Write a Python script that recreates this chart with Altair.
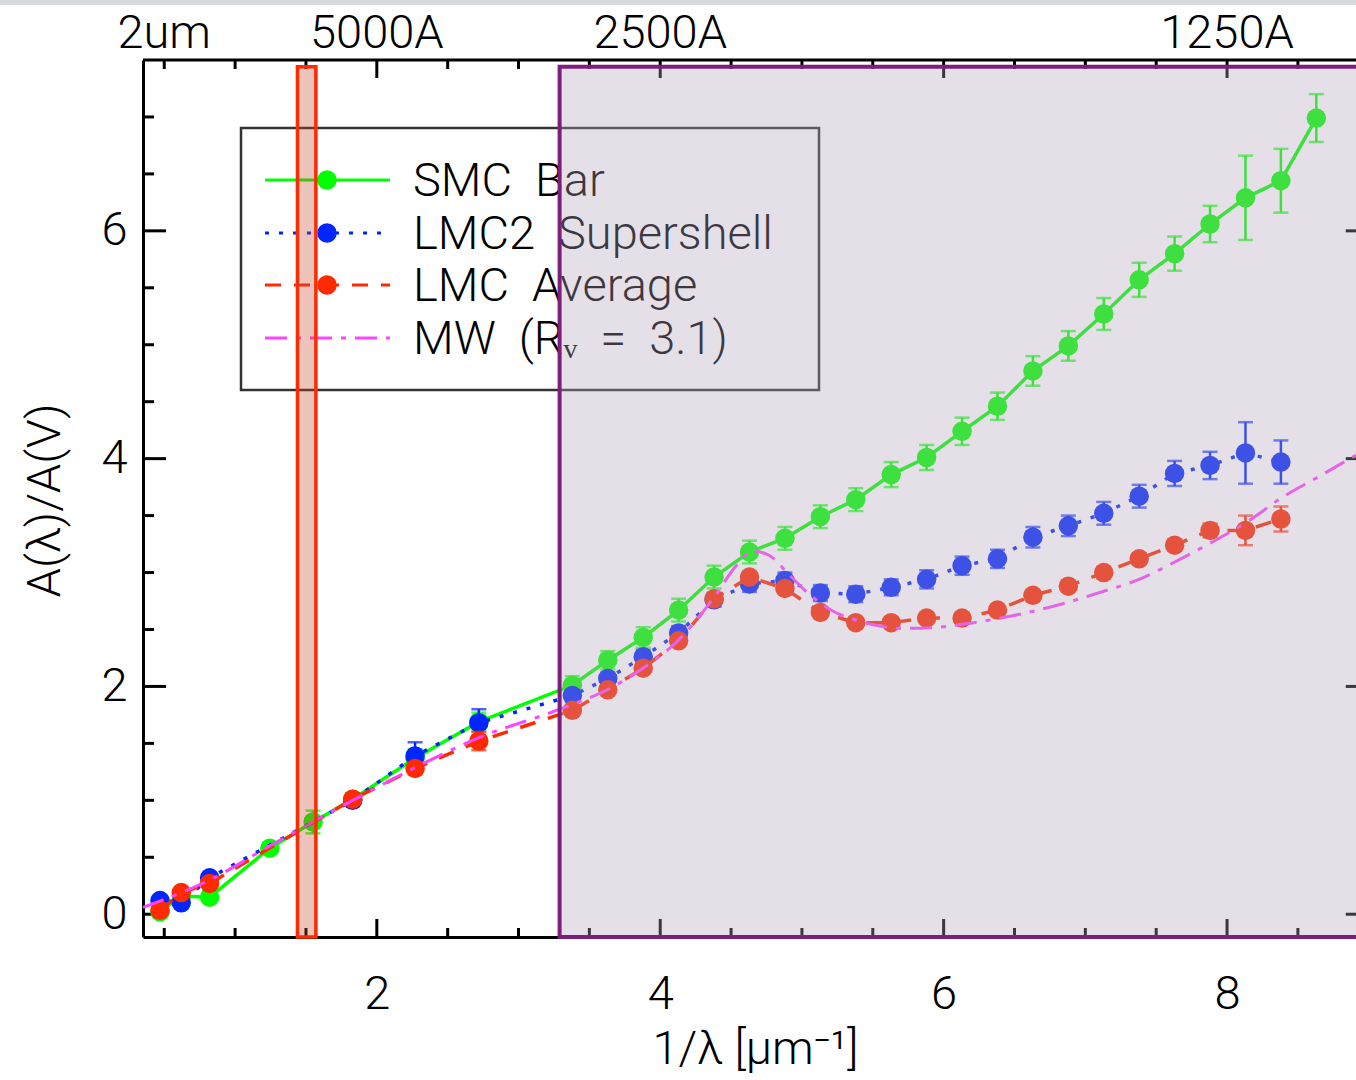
import altair as alt
import pandas as pd

# ---------------- data ----------------
uv_x = [3.38, 3.63, 3.88, 4.13, 4.38, 4.63, 4.88, 5.13, 5.38, 5.63, 5.88,
        6.13, 6.38, 6.63, 6.88, 7.13, 7.38, 7.63, 7.88, 8.13, 8.38, 8.63]

smc_x = [0.47, 0.62, 0.82, 1.245, 1.55, 1.83, 2.27, 2.72] + uv_x
smc_y = [0.02, 0.16, 0.15, 0.58, 0.81, 1.01, 1.37, 1.69,
         2.01, 2.23, 2.43, 2.67, 2.96, 3.18, 3.30, 3.49, 3.64, 3.86, 4.01,
         4.24, 4.46, 4.77, 4.99, 5.27, 5.57, 5.80, 6.06, 6.29, 6.44, 6.99]
smc_err = [0.02, 0.02, 0.03, 0.03, 0.10, 0.03, 0.08, 0.08,
           0.08, 0.08, 0.09, 0.10, 0.10, 0.10, 0.10, 0.10, 0.10, 0.11, 0.11,
           0.12, 0.12, 0.13, 0.13, 0.14, 0.15, 0.15, 0.16, 0.37, 0.28, 0.21]

lmc2_x = [0.47, 0.62, 0.82, 1.83, 2.27, 2.72] + uv_x[:21]
lmc2_y = [0.12, 0.10, 0.32, 1.00, 1.39, 1.68,
          1.92, 2.07, 2.26, 2.47, 2.76, 2.90, 2.93, 2.82, 2.81, 2.87, 2.94,
          3.06, 3.12, 3.31, 3.41, 3.52, 3.67, 3.87, 3.94, 4.05, 3.97]
lmc2_err = [0.03, 0.03, 0.03, 0.03, 0.12, 0.12,
            0.05, 0.05, 0.06, 0.06, 0.06, 0.07, 0.07, 0.07, 0.07, 0.07, 0.08,
            0.08, 0.08, 0.09, 0.09, 0.10, 0.10, 0.11, 0.12, 0.27, 0.19]

lmca_x = [0.47, 0.62, 0.82, 1.83, 2.27, 2.72] + uv_x[:21]
lmca_y = [0.035, 0.19, 0.27, 1.01, 1.28, 1.52,
          1.79, 1.97, 2.16, 2.40, 2.77, 2.96, 2.86, 2.65, 2.56, 2.56, 2.60,
          2.60, 2.67, 2.80, 2.88, 3.00, 3.12, 3.24, 3.37, 3.37, 3.47]
lmca_err = [0.02, 0.02, 0.02, 0.02, 0.05, 0.08,
            0.03, 0.03, 0.03, 0.03, 0.04, 0.04, 0.04, 0.04, 0.04, 0.04, 0.04,
            0.04, 0.04, 0.04, 0.04, 0.05, 0.05, 0.05, 0.06, 0.13, 0.11]

mw_x = [0.35, 0.82, 1.245, 1.83, 2.29, 2.72, 3.29, 3.64, 3.89, 4.14, 4.28,
        4.39, 4.53, 4.65, 4.77, 4.91, 5.06, 5.22, 5.39, 5.55, 5.74, 5.97,
        6.21, 6.56, 6.88, 7.14, 7.38, 7.58, 7.81, 8.16, 8.39, 8.63, 8.91]
mw_y = [0.06, 0.30, 0.60, 1.00, 1.30, 1.55, 1.80, 1.98, 2.17, 2.42, 2.62,
        2.80, 3.05, 3.19, 3.15, 2.98, 2.80, 2.66, 2.58, 2.53, 2.51, 2.52,
        2.56, 2.64, 2.74, 2.84, 2.94, 3.06, 3.21, 3.46, 3.66, 3.83, 4.03]

series_names = ["SMC\u00a0\u00a0Bar", "LMC2\u00a0\u00a0Supershell",
                "LMC\u00a0\u00a0Average", "MW\u00a0\u00a0(R\u1d65\u00a0\u00a0=\u00a0\u00a03.1)"]

x_major = [2, 4, 6, 8]
x_minor = [0.5, 1.0, 1.5, 2.5, 3.0, 3.5, 4.5, 5.0, 5.5, 6.5, 7.0, 7.5, 8.5]
y_major = [0, 2, 4, 6]
y_minor = [0.5, 1.0, 1.5, 2.5, 3.0, 3.5, 4.5, 5.0, 5.5, 6.5, 7.0]

top_tick_pos = [0.5, 2.0, 4.0, 8.0]
top_tick_text = ["2um", "5000A", "2500A", "1250A"]

band_x = [1.44, 1.57]      # optical band
uv_box_x = [3.29, 9.3]     # UV region (runs off the right edge)
box_y = [-0.2, 7.44]

X_DOMAIN = [0.35, 8.91]
Y_DOMAIN = [-0.2, 7.5]
X_RIGHT_AXIS = 9.0

# ---------------- layout / style ----------------
W, H = 1213, 877
FONT = "Roboto"
FW = 300
FS = 47

GREEN, BLUE, RED, MAG = "#00ff00", "#0026ff", "#ff2a00", "#ff44ff"

xs = alt.Scale(domain=X_DOMAIN, nice=False, zero=False)
ys = alt.Scale(domain=Y_DOMAIN, nice=False, zero=False)

xaxis = alt.Axis(values=x_major, ticks=False, grid=False, domainColor="black",
                 domainWidth=3, labelFont=FONT, labelFontSize=FS, labelFontWeight=FW,
                 labelColor="black", labelBaseline="alphabetic", labelPadding=71,
                 title="1/λ [μm⁻¹]", titleFont=FONT, titleFontSize=FS,
                 titleFontWeight=FW, titleColor="black", titleX=612, titleY=126,
                 titleBaseline="alphabetic", titleAlign="center")
yaxis = alt.Axis(values=y_major, ticks=False, grid=False, domainColor="black",
                 domainWidth=3, labelFont=FONT, labelFontSize=FS, labelFontWeight=FW,
                 labelColor="black", labelBaseline="middle", labelPadding=16,
                 title="A(λ)/A(V)", titleFont=FONT, titleFontSize=FS,
                 titleFontWeight=FW, titleColor="black", titleX=-98, titleY=440,
                 titleAngle=270, titleBaseline="middle", titleAlign="center")


def X(f="x"):
    return alt.X(f"{f}:Q", scale=xs, axis=xaxis)


def Y(f="y"):
    return alt.Y(f"{f}:Q", scale=ys, axis=yaxis)


dummy = pd.DataFrame({"k": [0]})
layers = []

# screenshot strip at top of page
layers.append(alt.Chart(dummy).mark_rect(color="#d6dade").encode(
    x=alt.value(-143), x2=alt.value(W), y=alt.value(-60), y2=alt.value(-55)))

# ---------------- ticks (inward) ----------------
def xticks(vals, length):
    d = pd.DataFrame({"x": vals})
    bottom = alt.Chart(d).mark_rule(color="black", strokeWidth=3).encode(
        x=X(), y=alt.value(H), y2=alt.value(H - length))
    top = alt.Chart(d).mark_rule(color="black", strokeWidth=3).encode(
        x=X(), y=alt.value(0), y2=alt.value(length))
    return [bottom, top]


right_px = (X_RIGHT_AXIS - X_DOMAIN[0]) / (X_DOMAIN[1] - X_DOMAIN[0]) * W


def yticks(vals, length):
    d = pd.DataFrame({"y": vals})
    left = alt.Chart(d).mark_rule(color="black", strokeWidth=3).encode(
        y=Y(), x=alt.value(0), x2=alt.value(length))
    right = alt.Chart(d).mark_rule(color="black", strokeWidth=3).encode(
        y=Y(), x=alt.value(right_px - length), x2=alt.value(right_px))
    return [left, right]


layers += xticks(x_major, 18) + xticks(x_minor, 9)
layers += yticks(y_major, 23) + yticks(y_minor, 11)

# top frame line
layers.append(alt.Chart(dummy).mark_rule(color="black", strokeWidth=3).encode(
    x=alt.value(0), x2=alt.value(W), y=alt.value(0)))

# top axis labels
top_df = pd.DataFrame({"x": top_tick_pos, "t": top_tick_text})
layers.append(alt.Chart(top_df).mark_text(
    font=FONT, fontSize=FS, fontWeight=FW, color="black", align="center",
    baseline="alphabetic").encode(x=X(), y=alt.value(-12), text="t:N"))

# ---------------- data series ----------------
def series(xv, yv, ev, color, dash):
    d = pd.DataFrame({"x": xv, "y": yv, "e": ev})
    d["lo"] = d["y"] - d["e"]
    d["hi"] = d["y"] + d["e"]
    line_kw = dict(color=color, strokeWidth=3.5)
    if dash:
        line_kw["strokeDash"] = dash
    base = alt.Chart(d)
    line = base.mark_line(**line_kw).encode(x=X(), y=Y())
    bar = base.mark_rule(color=color, strokeWidth=2.5).encode(
        x=X(), y=alt.Y("lo:Q", scale=ys, axis=yaxis), y2="hi:Q")
    cap_lo = base.mark_tick(color=color, orient="horizontal", size=15, thickness=2.5).encode(
        x=X(), y=alt.Y("lo:Q", scale=ys, axis=yaxis))
    cap_hi = base.mark_tick(color=color, orient="horizontal", size=15, thickness=2.5).encode(
        x=X(), y=alt.Y("hi:Q", scale=ys, axis=yaxis))
    pts = base.mark_circle(color=color, size=380, opacity=1).encode(x=X(), y=Y())
    return [line, bar, cap_lo, cap_hi, pts]


layers += series(smc_x, smc_y, smc_err, GREEN, None)
layers += series(lmc2_x, lmc2_y, lmc2_err, BLUE, [4, 10])
layers += series(lmca_x, lmca_y, lmca_err, RED, [16, 13])

mw_df = pd.DataFrame({"x": mw_x, "y": mw_y})
layers.append(alt.Chart(mw_df).mark_line(
    color=MAG, strokeWidth=3, strokeDash=[22, 9, 5, 9], interpolate="monotone"
).encode(x=X(), y=Y()))

# ---------------- legend ----------------
layers.append(alt.Chart(dummy).mark_rect(fill="white", stroke="#333333", strokeWidth=2.5).encode(
    x=alt.value(98), x2=alt.value(676), y=alt.value(68), y2=alt.value(330)))

leg_colors = [GREEN, BLUE, RED, MAG]
leg_dash = [None, [4, 10], [16, 13], [22, 9, 5, 9]]
leg_rows = [120, 173, 225, 278]
for i in range(4):
    kw = dict(color=leg_colors[i], strokeWidth=3)
    if leg_dash[i]:
        kw["strokeDash"] = leg_dash[i]
    layers.append(alt.Chart(dummy).mark_rule(**kw).encode(
        x=alt.value(122), x2=alt.value(247), y=alt.value(leg_rows[i])))
    if i < 3:
        layers.append(alt.Chart(dummy).mark_circle(color=leg_colors[i], size=380, opacity=1).encode(
            x=alt.value(184), y=alt.value(leg_rows[i])))
    layers.append(alt.Chart(pd.DataFrame({"t": [series_names[i]]})).mark_text(
        font=FONT, fontSize=FS, fontWeight=FW, color="black", align="left",
        baseline="alphabetic").encode(x=alt.value(270), y=alt.value(leg_rows[i] + 16),
                                      text="t:N"))

# ---------------- shaded regions (drawn over everything) ----------------
band_df = pd.DataFrame({"x": [band_x[0]], "x2": [band_x[1]], "y": [box_y[0]], "y2": [box_y[1]]})
layers.append(alt.Chart(band_df).mark_rect(
    fill="#c84529", fillOpacity=0.32, stroke=RED, strokeWidth=3.5).encode(
    x=X(), x2="x2:Q", y=Y(), y2="y2:Q"))

uv_df = pd.DataFrame({"x": [uv_box_x[0]], "x2": [uv_box_x[1]], "y": [box_y[0]], "y2": [box_y[1]]})
layers.append(alt.Chart(uv_df).mark_rect(
    fill="#b4a5ba", fillOpacity=0.34, stroke="#7d1e7d", strokeWidth=4).encode(
    x=X(), x2="x2:Q", y=Y(), y2="y2:Q"))

chart = alt.layer(*layers).properties(
    width=W, height=H,
    autosize=alt.AutoSizeParams(type="none"),
    padding={"left": 143, "top": 60, "right": 0, "bottom": 141},
    background="white",
).configure_view(stroke=None)

chart.save("out.html", embed_options={"renderer": "svg", "actions": False})
